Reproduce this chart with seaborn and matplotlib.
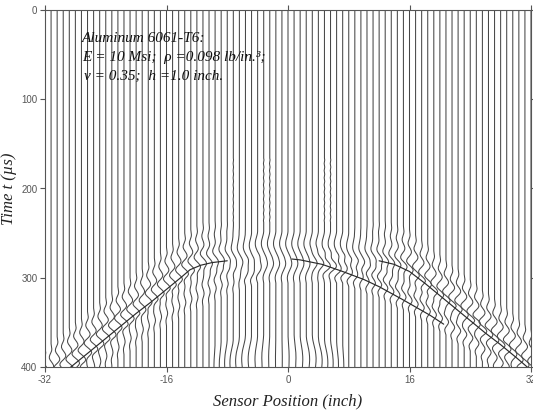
import numpy as np
import pandas as pd
import matplotlib
matplotlib.use("Agg")
import matplotlib.pyplot as plt
import seaborn as sns

# ---------------- data ----------------
positions = [-32.0, -31.2, -30.4, -29.6, -28.8, -28.0, -27.2, -26.4, -25.6, -24.8,
             -24.0, -23.2, -22.4, -21.6, -20.8, -20.0, -19.2, -18.4, -17.6, -16.8,
             -16.0, -15.2, -14.4, -13.6, -12.8, -12.0, -11.2, -10.4, -9.6, -8.8,
             -8.0, -7.2, -6.4, -5.6, -4.8, -4.0, -3.2, -2.4, -1.6, -0.8,
             0.0, 0.8, 1.6, 2.4, 3.2, 4.0, 4.8, 5.6, 6.4, 7.2,
             8.0, 8.8, 9.6, 10.4, 11.2, 12.0, 12.8, 13.6, 14.4, 15.2,
             16.0, 16.8, 17.6, 18.4, 19.2, 20.0, 20.8, 21.6, 22.4, 23.2,
             24.0, 24.8, 25.6, 26.4, 27.2, 28.0, 28.8, 29.6, 30.4, 31.2, 32.0]

# time (us) of the main wave packet on each trace (last large crest)
main_arrival = [424, 419, 413, 408, 402, 397, 391, 385, 380, 374,
                368, 363, 357, 352, 346, 340, 335, 329, 324, 318,
                313, 308, 302, 297, 292, 288, 285, 283, 282, 281,
                280, 280, 279, 279, 279, 278, 278, 278, 278, 278,
                278, 278, 278, 278, 278, 278, 278, 278, 278, 278,
                279, 279, 279, 280, 280, 281, 282, 284, 286, 289,
                293, 298, 304, 309, 315, 320, 326, 331, 337, 342,
                348, 353, 359, 364, 370, 375, 381, 386, 392, 398, 403]
# amplitude (inch) of the spread-out packet seen away from the source
side_amp = ([0.55] * 15 + [0.5] * 9 +
            [0.45, 0.4, 0.35, 0.3, 0.25, 0.2, 0.15, 0.1, 0.08, 0.05, 0.0] +
            [0.0] * 15 +
            [0.02, 0.06, 0.08, 0.1, 0.15, 0.2, 0.25, 0.3, 0.35, 0.4, 0.45] +
            [0.5] * 5 + [0.55] * 15)
# amplitude (inch) of the compact pulse seen near the source
center_amp = ([0.0] * 24 +
              [0.05, 0.12, 0.18, 0.22, 0.28, 0.32, 0.36, 0.4, 0.43, 0.46, 0.48] +
              [0.5] * 15 +
              [0.47, 0.45, 0.43, 0.4, 0.36, 0.32, 0.28, 0.22, 0.18, 0.12, 0.05] +
              [0.0] * 20)

# second (later) packet, strong on the right-hand side
late_arrival = [450, 443, 436, 430, 424, 418, 412, 406, 400, 394,
                389, 383, 378, 373, 368, 363, 358, 354, 349, 345,
                341, 337, 333, 329, 325, 322, 318, 315, 312, 308,
                306, 303, 300, 297, 295, 293, 291, 288, 287, 285,
                283, 282, 280, 282, 284, 285, 287, 289, 291, 293,
                296, 298, 301, 303, 306, 309, 312, 316, 319, 322,
                326, 330, 334, 338, 342, 346, 350, 355, 360, 364,
                369, 374, 379, 385, 390, 396, 401, 407, 413, 419, 425]
late_amp = [0.15] * 36 + [0.0] * 8 + [0.15, 0.22] + [0.35] * 35

# slow outward bend near the centre at the bottom of the record
slow_onset = [400] * 28 + [372, 370, 369, 368, 366, 365, 364, 363, 362, 362, 362,
                           362, 362, 362, 363, 364, 365, 366, 368, 369, 370, 372] + [400] * 31
slow_amp = [0.0] * 28 + [-0.15, -0.25, -0.35, -0.45, -0.5, -0.5, -0.45, -0.35, -0.25, -0.15, -0.05,
                         0.05, 0.15, 0.25, 0.35, 0.45, 0.5, 0.5, 0.45, 0.35, 0.25, 0.15] + [0.0] * 31

# faint high-frequency precursor on a few central traces (t = 166..238 us)
precursor_start = 166
precursor_amp = ([0.0] * 31 + [0.025] + [0.0] * 4 + [0.035, 0.035] + [0.0] * 8 +
                 [0.035, 0.035] + [0.0] * 33)

# wavelet shapes (normalised, sampled every 2 us)
side_wavelet = [0.0, 0.06, 0.14, 0.18, 0.12, -0.05, -0.25, -0.4, -0.42, -0.25, 0.05,
                0.35, 0.58, 0.62, 0.4, 0.0, -0.45, -0.75, -0.8, -0.5, 0.0, 0.5, 0.88,
                1.0, 0.75, 0.3, -0.05, -0.15, -0.08, 0.0]
side_anchor = 23
center_wavelet = [0.0, -0.05, -0.15, -0.28, -0.42, -0.53, -0.6, -0.62, -0.58, -0.47,
                  -0.3, -0.1, 0.12, 0.35, 0.55, 0.72, 0.85, 0.95, 1.0, 0.95, 0.82,
                  0.62, 0.4, 0.18, 0.0, -0.12, -0.18, -0.15, -0.08, 0.0]
center_anchor = 15
late_wavelet = [0.0, 0.1, 0.2, 0.1, -0.2, -0.5, -0.65, -0.45, 0.0, 0.5, 0.85, 1.0,
                0.75, 0.25, -0.2, -0.45, -0.4, -0.2, 0.0]
late_anchor = 11
slow_wavelet = [0.0, 0.03, 0.08, 0.15, 0.25, 0.36, 0.48, 0.6, 0.7, 0.8, 0.87, 0.93,
                0.97, 1.0, 1.0, 0.98, 0.95, 0.9, 0.85]
precursor_wavelet = [0, 1, 0, -1, 0, 1, 0, -1, 0, 1, 0, -1, 0, 1, 0, -1, 0, 1, 0,
                     -1, 0, 1, 0, -1, 0, 1, 0, -1, 0, 1, 0, -1, 0, 1, 0, -1, 0]

time_axis = list(range(0, 402, 2))

# visible fronts drawn across the traces
front_left_x = [-29.8, -28.6, -26.0, -24.0, -22.0, -20.0, -18.0, -16.0, -14.0, -12.9,
                -11.5, -10.0, -8.0]
front_left_t = [408, 400, 382, 368, 354, 340, 327, 313, 299, 291, 286, 283, 281]
front_right_x = [12.0, 14.0, 16.0, 18.0, 20.0, 22.0, 24.0, 26.0, 28.0, 30.0, 31.5, 32.2]
front_right_t = [281, 285, 293, 306, 320, 334, 348, 362, 375, 389, 400, 405]
front_late_x = [0.5, 1.6, 4.5, 7.2, 10.0, 12.0, 15.0, 18.7, 20.5]
front_late_t = [279, 280, 285, 293, 302, 310, 324, 342, 352]

tick_x = [-32, -16, 0, 16, 32]
tick_t = [0, 100, 200, 300, 400]

# ---------------- build the long table ----------------
n_t = len(time_axis)
dt = 2


def add_packet(disp, start, amp, wavelet):
    if amp == 0:
        return
    for k, w in enumerate(wavelet):
        j = start + k
        if 0 <= j < n_t:
            disp[j] += amp * w


rows = []
for i, x0 in enumerate(positions):
    disp = np.zeros(n_t)
    add_packet(disp, int(round(main_arrival[i] / dt)) - side_anchor, side_amp[i], side_wavelet)
    add_packet(disp, int(round(main_arrival[i] / dt)) - center_anchor, center_amp[i], center_wavelet)
    add_packet(disp, int(round(late_arrival[i] / dt)) - late_anchor, late_amp[i], late_wavelet)
    add_packet(disp, precursor_start // dt, precursor_amp[i], precursor_wavelet)
    start = int(round(slow_onset[i] / dt))
    for k in range(max(n_t - start, 0)):
        disp[start + k] += slow_amp[i] * slow_wavelet[min(k, len(slow_wavelet) - 1)]
    for j in range(n_t):
        rows.append((i, time_axis[j], x0 + disp[j]))
traces = pd.DataFrame(rows, columns=["trace", "t", "x"])

fronts = pd.concat([
    pd.DataFrame({"front": 0, "x": front_left_x, "t": front_left_t}),
    pd.DataFrame({"front": 1, "x": front_right_x, "t": front_right_t}),
    pd.DataFrame({"front": 2, "x": front_late_x, "t": front_late_t}),
], ignore_index=True)

# ---------------- plot ----------------
sns.set_theme(style="ticks")
plt.rcParams["font.family"] = ["Liberation Sans", "DejaVu Sans"]

fig = plt.figure(figsize=(5.33, 4.11), dpi=100)
ax = fig.add_axes([45 / 533, 1 - 367 / 411, 486 / 533, 357 / 411])

sns.lineplot(data=traces, x="x", y="t", units="trace", estimator=None, sort=False,
             orient="y", color="#474747", linewidth=0.75, ax=ax, legend=False)
sns.lineplot(data=fronts, x="x", y="t", units="front", estimator=None, sort=False,
             orient="y", color="#2a2a2a", linewidth=0.85, ax=ax, legend=False)

ax.set_xlim(-32, 32)
ax.set_ylim(400, 0)
ax.set_xticks(tick_x)
ax.set_xticklabels([str(v) for v in tick_x])
ax.set_yticks(tick_t)
ax.set_yticklabels([str(v) for v in tick_t])
ax.tick_params(axis="both", which="both", direction="out", length=3.5, width=0.8,
               colors="#555555", labelsize=7, top=True, right=True,
               labeltop=False, labelright=False, pad=2)
for s in ax.spines.values():
    s.set_visible(True)
    s.set_color("#555555")
    s.set_linewidth(0.8)

serif = ["Liberation Serif", "DejaVu Serif"]
ax.set_xlabel("Sensor Position (inch)", family=serif, style="italic", fontsize=12,
              color="#222222")
ax.set_ylabel("Time t (µs)", family=serif, style="italic", fontsize=12,
              color="#222222")
ax.xaxis.set_label_coords(0.5, -0.075)
ax.yaxis.set_label_coords(-0.058, 0.5)

ann = {"family": serif, "style": "italic", "fontsize": 11, "color": "#111111"}
fig.text(82 / 533, 1 - 38 / 411, "Aluminum 6061-T6:", va="center", ha="left", **ann)
fig.text(82 / 533, 1 - 57 / 411, "E = 10 Msi;  ρ =0.098 lb/in.³;", va="center", ha="left", **ann)
fig.text(84 / 533, 1 - 76 / 411, "ν = 0.35;  h =1.0 inch.", va="center", ha="left", **ann)

fig.savefig("out.png", dpi=100)
